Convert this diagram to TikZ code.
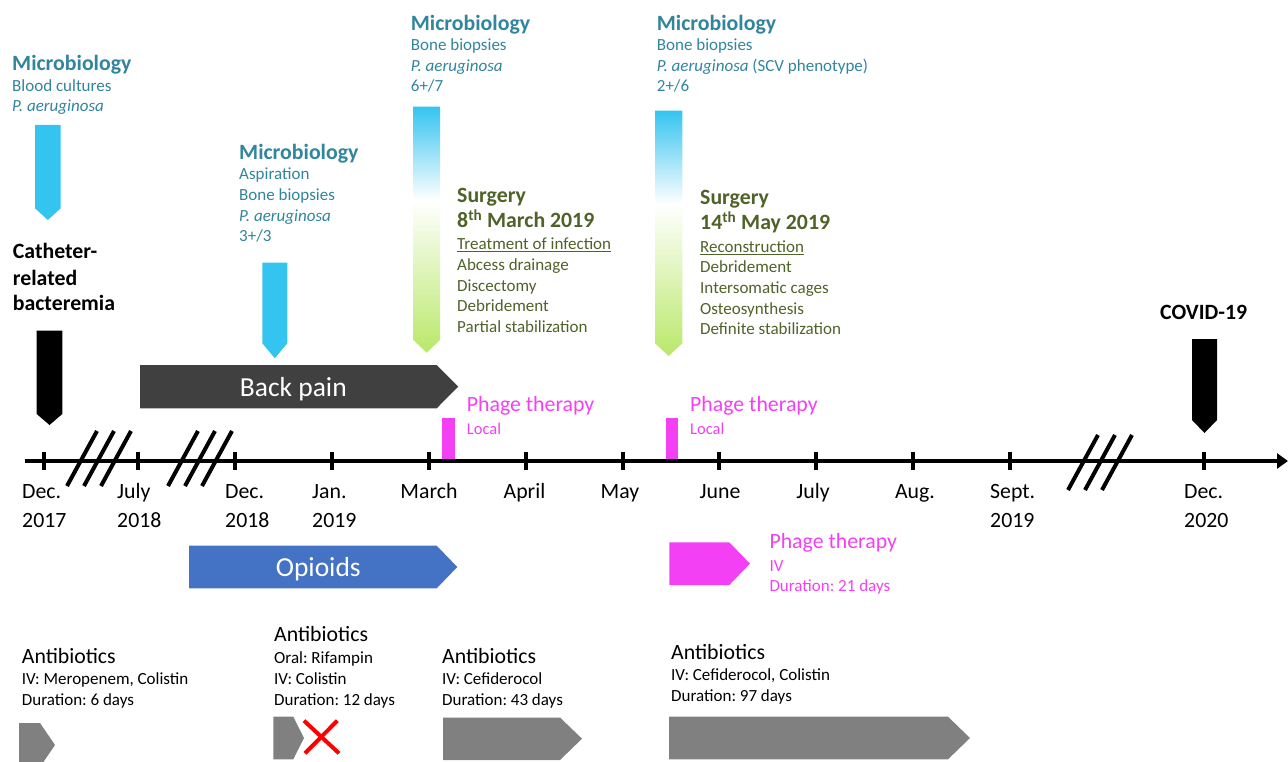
\documentclass[tikz,border=0pt]{standalone}
\usepackage{fontspec}
\setmainfont{Carlito}
\usetikzlibrary{arrows.meta}
\frenchspacing

\definecolor{micblue}{RGB}{52,196,240}
\definecolor{mictext}{RGB}{49,133,156}
\definecolor{surgtext}{RGB}{79,98,40}
\definecolor{surggreen}{RGB}{185,232,105}
\definecolor{painfill}{RGB}{64,64,64}
\definecolor{opioidfill}{RGB}{68,114,196}
\definecolor{phage}{RGB}{244,64,244}
\definecolor{abxfill}{RGB}{128,128,128}

\pgfdeclareverticalshading{micsurg}{100bp}{color(0bp)=(surggreen); color(25bp)=(surggreen); color(56bp)=(white); color(75bp)=(micblue); color(100bp)=(micblue)}

\tikzset{
  head/.style={font=\fontsize{21.8}{26}\selectfont\bfseries, anchor=base west, inner sep=0pt},
  big/.style={font=\fontsize{21.8}{26}\selectfont, anchor=base west, inner sep=0pt},
  small/.style={font=\fontsize{17}{20}\selectfont, anchor=base west, inner sep=0pt},
  bartext/.style={font=\fontsize{27.5}{32}\selectfont, text=white, anchor=base, inner sep=0pt}
}

\begin{document}
\begin{tikzpicture}[x=1pt, y=-1pt]
        \useasboundingbox (0,0) rectangle (1288,762);

        % timeline
        \draw[line width=4pt, -{Triangle[length=11pt,width=15pt]}] (25,461) coordinate (start) -- (1288,461) coordinate (end);
        \foreach \x in {43.5,138,235,331.5,429,526,622.5,719,816,913,1010,1204}
            \draw[line width=4pt] (\x,451.7) -- (\x,470);
        \foreach \x in {67,84,101,168,185,202}
            \draw[line width=4pt] (\x,486) -- (\x+30,431);
        \foreach \x in {1068,1085,1102}
            \draw[line width=4pt] (\x,490) -- (\x+30,435);

        % months
        \foreach \x/\a/\b [count=\i] in {22/Dec./2017, 117/July/2018, 225/Dec./2018, 312/Jan./2019, 990/Sept./2019, 1184/Dec./2020} {
            \node[big] (date\i a) at (\x,498.5) {\a};
            \node[big] (date\i b) at (\x,527) {\b};
        }
        \foreach \x/\a [count=\i] in {429/March, 524.5/April, 620/May, 720/June, 813/July, 915/Aug.}
            \node[big, anchor=base] (month\i) at (\x,498.5) {\a};

        % microbiology arrows
        \fill[micblue] (35,125) -- (60.7,125) -- (60.7,208.3) -- (47.85,220) -- (35,208.3) -- cycle;
        \fill[micblue] (262.3,262.7) -- (287.3,262.7) -- (287.3,343.3) -- (274.8,358.3) -- (262.3,343.3) -- cycle;
        \shade[shading=micsurg] (413.3,106.7) -- (440,106.7) -- (440,340) -- (426.65,352.7) -- (413.3,340) -- cycle;
        \shade[shading=micsurg] (655,110.7) -- (682.3,110.7) -- (682.3,343.3) -- (668.65,356) -- (655,343.3) -- cycle;

        % events
        \fill[black] (36.7,330.7) -- (62.3,330.7) -- (62.3,414) -- (49.5,425) -- (36.7,414) -- cycle;
        \fill[black] (1192,339) -- (1217,339) -- (1217,420) -- (1204.5,433) -- (1192,420) -- cycle;
        \node[head] (catheter1) at (12.7,258.3) {Catheter-};
        \node[head] (catheter2) at (12.7,285) {related};
        \node[head] (catheter3) at (12.7,310.7) {bacteremia};
        \node[head] (covid) at (1160,319.3) {COVID-19};

        % microbiology texts
        \node[head, text=mictext] (mic1) at (12,70.7) {Microbiology};
        \foreach \t [count=\i] in {Blood cultures, \textit{P. aeruginosa}}
            \node[small, text=mictext] (mic1-\i) at (12,70.7+20.4*\i) {\t};
        \node[head, text=mictext] (mic2) at (239,159.3) {Microbiology};
        \foreach \t [count=\i] in {Aspiration, Bone biopsies, \textit{P. aeruginosa}, 3+/3}
            \node[small, text=mictext] (mic2-\i) at (239,159.3+20.6*\i) {\t};
        \node[head, text=mictext] (mic3) at (410.7,30.7) {Microbiology};
        \foreach \t [count=\i] in {Bone biopsies, \textit{P. aeruginosa}, 6+/7}
            \node[small, text=mictext] (mic3-\i) at (410.7,30.7+20.3*\i) {\t};
        \node[head, text=mictext] (mic4) at (656.7,30.7) {Microbiology};
        \foreach \t [count=\i] in {Bone biopsies, \textit{P. aeruginosa} (SCV phenotype), 2+/6}
            \node[small, text=mictext] (mic4-\i) at (656.7,30.7+20.3*\i) {\t};

        % surgery texts
        \node[head, text=surgtext] (surg1) at (457,202.7) {Surgery};
        \node[head, text=surgtext] (surg1date) at (457,227.7) {8\textsuperscript{th} March 2019};
        \foreach \t [count=\i] in {\underline{Treatment of infection}, Abcess drainage, Discectomy, Debridement, Partial stabilization}
            \node[small, text=surgtext] (surg1-\i) at (457,229.4+20.6*\i) {\t};
        \node[head, text=surgtext] (surg2) at (700,205) {Surgery};
        \node[head, text=surgtext] (surg2date) at (700,230) {14\textsuperscript{th} May 2019};
        \foreach \t [count=\i] in {\underline{Reconstruction}, Debridement, Intersomatic cages, Osteosynthesis, Definite stabilization}
            \node[small, text=surgtext] (surg2-\i) at (700,231.7+20.6*\i) {\t};

        % back pain and opioids
        \fill[painfill] (140,365) -- (436.7,365) -- (458.3,386.65) -- (436.7,408.3) -- (140,408.3) -- cycle;
        \node[bartext] (pain) at (293.3,396.7) {Back pain};
        \fill[opioidfill] (189,545.7) -- (436.7,545.7) -- (457.3,567) -- (436.7,588.3) -- (189,588.3) -- cycle;
        \node[bartext] (opioids) at (318.3,576.7) {Opioids};

        % phage therapy
        \fill[phage] (442.3,418.3) rectangle (455,459);
        \fill[phage] (666,418.3) rectangle (678.3,459);
        \node[big, text=phage] (phage1) at (466.7,411.7) {Phage therapy};
        \node[small, font=\fontsize{16.5}{18}\selectfont, text=phage] (phage1-1) at (466.7,434.3) {Local};
        \node[big, text=phage] (phage2) at (690,411.7) {Phage therapy};
        \node[small, font=\fontsize{16.5}{18}\selectfont, text=phage] (phage2-1) at (690,434.3) {Local};
        \fill[phage] (669.3,542.3) -- (729.3,542.3) -- (750,563.65) -- (729.3,585) -- (669.3,585) -- cycle;
        \node[big, text=phage] (phage3) at (769.3,548.3) {Phage therapy};
        \node[small, text=phage] (phage3-1) at (769.3,571.7) {IV};
        \node[small, text=phage] (phage3-2) at (769.3,591.7) {Duration: 21 days};

        % antibiotics
        \node[big] (abx1) at (21.7,663.3) {Antibiotics};
        \foreach \t [count=\i] in {{IV: Meropenem, Colistin}, Duration: 6 days}
            \node[small] (abx1-\i) at (21.7,663.3+21*\i) {\t};
        \fill[abxfill] (19,723) -- (40,723) -- (55,745) -- (40,767) -- (19,767) -- cycle;

        \node[big] (abx2) at (274,641.7) {Antibiotics};
        \foreach \t [count=\i] in {Oral: Rifampin, IV: Colistin, Duration: 12 days}
            \node[small] (abx2-\i) at (274,641.7+21.4*\i) {\t};
        \fill[abxfill] (273.3,716.7) -- (293.3,716.7) -- (304,738) -- (293.3,759.3) -- (273.3,759.3) -- cycle;
        \draw[red, line width=4pt] (304,720.7) -- (339,753.3);
        \draw[red, line width=4pt] (337.3,720.7) -- (305,753.3);

        \node[big] (abx3) at (442,663) {Antibiotics};
        \foreach \t [count=\i] in {IV: Cefiderocol, Duration: 43 days}
            \node[small] (abx3-\i) at (442,663+21*\i) {\t};
        \fill[abxfill] (443,717.5) -- (560,717.5) -- (582,738.7) -- (560,760) -- (443,760) -- cycle;

        \node[big] (abx4) at (671,659.3) {Antibiotics};
        \foreach \t [count=\i] in {{IV: Cefiderocol, Colistin}, Duration: 97 days}
            \node[small] (abx4-\i) at (671,659.3+21.2*\i) {\t};
        \fill[abxfill] (669,716.7) -- (948,716.7) -- (970,738) -- (948,759.3) -- (669,759.3) -- cycle;
    \end{tikzpicture}
\end{document}
